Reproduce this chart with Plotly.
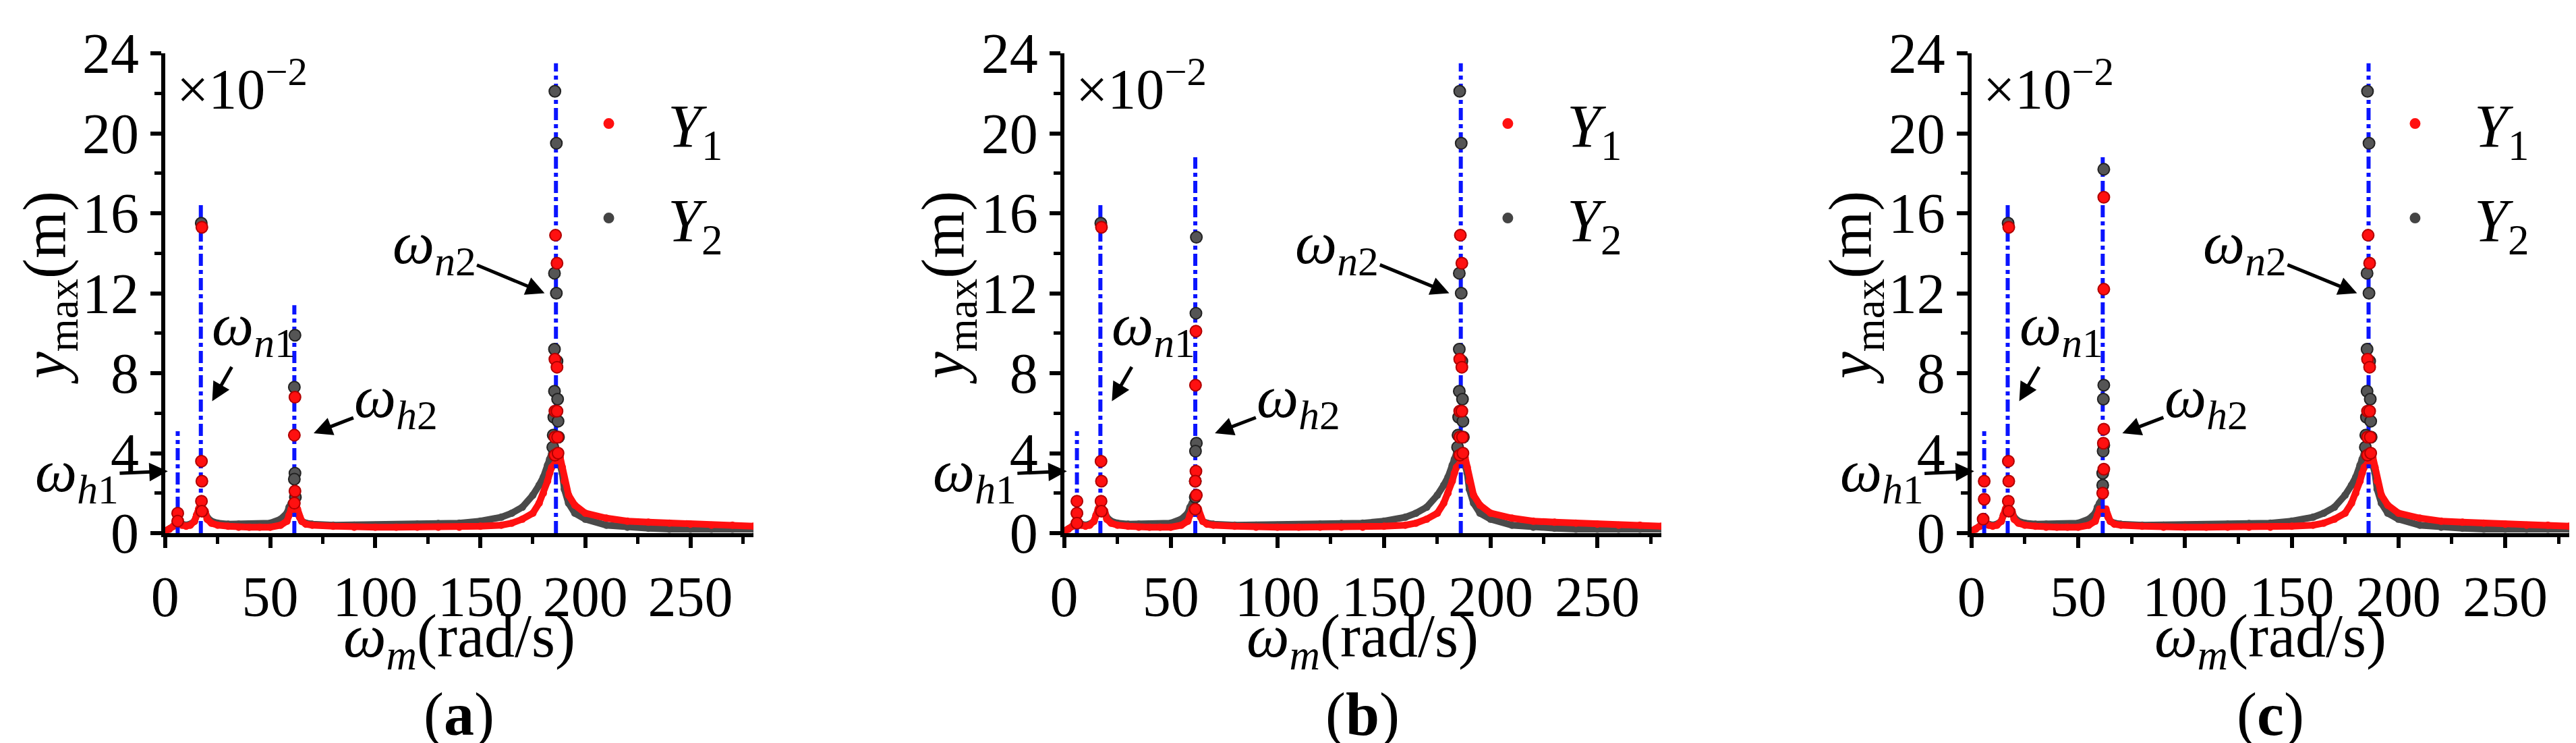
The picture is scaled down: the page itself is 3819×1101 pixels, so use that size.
import plotly.graph_objects as go
from plotly.subplots import make_subplots

# base response (values in 1e-2 m)
omega_base = [0, 2, 4, 5, 7, 8, 10, 12, 14, 15, 16, 19, 20, 22, 25, 30, 35, 40, 45, 50, 55, 58, 59, 60,
              63, 64, 65, 67, 70, 80, 90, 100, 110, 120, 130, 140, 150, 160, 165, 170, 175, 178, 180,
              182, 183, 184, 188, 189, 190, 192, 195, 200, 210, 220, 230, 240, 250, 260, 270, 280]
y1_base = [0.1, 0.2, 0.35, 0.5, 0.5, 0.4, 0.35, 0.4, 0.6, 0.9, 1.2, 1.1, 0.7, 0.5, 0.4, 0.35, 0.3, 0.3,
           0.3, 0.3, 0.4, 0.6, 0.9, 1.2, 1.2, 0.8, 0.6, 0.45, 0.4, 0.35, 0.3, 0.3, 0.3, 0.3, 0.3, 0.3,
           0.35, 0.4, 0.5, 0.7, 1.0, 1.5, 2.0, 2.6, 3.0, 3.3, 3.8, 3.3, 2.6, 1.9, 1.4, 1.0, 0.75, 0.6,
           0.55, 0.5, 0.45, 0.4, 0.4, 0.35]
y2_base = [0.1, 0.2, 0.35, 0.5, 0.5, 0.45, 0.4, 0.45, 0.6, 0.9, 1.2, 1.1, 0.8, 0.6, 0.5, 0.45, 0.45, 0.45,
           0.45, 0.5, 0.7, 1.0, 1.3, 1.5, 1.0, 0.8, 0.6, 0.5, 0.45, 0.4, 0.4, 0.4, 0.42, 0.45, 0.48, 0.5,
           0.6, 0.8, 1.0, 1.3, 1.9, 2.4, 2.8, 3.4, 3.7, 4.0, 3.4, 3.0, 2.2, 1.5, 1.0, 0.7, 0.4, 0.3,
           0.25, 0.2, 0.2, 0.2, 0.2, 0.2]

# common resonance points (omega_n1 and omega_n2)
n_y2_w = [17.2, 185.5, 186.2, 185.3, 186.2, 185.3, 186.5, 185.3, 186.8, 185.0, 187.0, 184.7, 187.2, 184.5]
n_y2_v = [15.5, 22.1, 19.5, 13.0, 12.0, 9.2, 8.6, 7.1, 6.7, 5.8, 5.6, 4.9, 4.8, 4.3]
n_y1_w = [17.5, 17.3, 17.5, 17.3, 17.5, 185.8, 186.5, 185.5, 186.5, 185.5, 186.5, 185.5, 186.8, 185.5, 187.0]
n_y1_v = [15.3, 3.6, 2.6, 1.6, 1.1, 14.9, 13.5, 8.7, 8.3, 6.1, 6.1, 4.8, 4.8, 3.9, 4.0]

# panel-specific points (omega_h1 and omega_h2)
a_y2_w = [61.8, 61.5, 61.8, 61.5, 62.0]
a_y2_v = [9.9, 7.3, 3.0, 2.7, 1.8]
a_y1_w = [6.0, 6.0, 61.8, 61.5, 61.8, 61.5]
a_y1_v = [1.0, 0.6, 6.8, 4.9, 2.1, 1.5]
b_y2_w = [62.0, 61.8, 62.0, 61.6, 61.5, 61.5]
b_y2_v = [14.8, 11.0, 4.5, 4.1, 2.6, 1.8]
b_y1_w = [6.0, 6.0, 6.0, 61.8, 61.6, 61.8, 61.5, 62.0, 61.5]
b_y1_v = [1.6, 1.0, 0.5, 10.1, 7.4, 3.1, 2.6, 1.9, 1.2]
c_y2_w = [62.0, 62.0, 61.8, 62.0, 61.7, 61.5, 61.5]
c_y2_v = [18.2, 7.4, 6.7, 4.4, 4.1, 3.0, 2.4]
c_y1_w = [6.0, 6.0, 5.5, 62.0, 62.0, 62.0, 61.8, 62.0, 61.5]
c_y1_v = [2.6, 1.7, 0.7, 16.8, 12.2, 5.2, 4.5, 3.2, 2.0]

# dash-dot marker lines: positions and heights per panel
vline_w = [6, 17, 61.5, 186]
vline_h = {"a": [5.1, 16.6, 11.4, 23.5], "b": [5.1, 16.6, 18.8, 23.5], "c": [5.1, 16.6, 18.8, 23.5]}

panels = {
    "a": (a_y1_w, a_y1_v, a_y2_w, a_y2_v),
    "b": (b_y1_w, b_y1_v, b_y2_w, b_y2_v),
    "c": (c_y1_w, c_y1_v, c_y2_w, c_y2_v),
}

FONT = "Liberation Serif"
RED = "#ff1010"
GRAY = "#4a4a4a"
TICK = 84
TITLE = 90

fig = make_subplots(rows=1, cols=3)
xdoms = [[0.0620, 0.2904], [0.411, 0.6428], [0.7632, 0.9953]]
ydom = [0.2897, 0.9355]

for i, key in enumerate(["a", "b", "c"]):
    col = i + 1
    sfx = "" if i == 0 else str(col)
    leg = "legend" + sfx
    w1, v1, w2, v2 = panels[key]
    # gray baseline
    fig.add_trace(go.Scatter(x=omega_base, y=y2_base, mode="lines+markers",
                             line=dict(color=GRAY, width=10),
                             marker=dict(size=11, color=GRAY), showlegend=False), row=1, col=col)
    fig.add_trace(go.Scatter(x=omega_base, y=y1_base, mode="lines+markers",
                             line=dict(color=RED, width=10),
                             marker=dict(size=11, color=RED), showlegend=False), row=1, col=col)
    for w, h in zip(vline_w, vline_h[key]):
        fig.add_trace(go.Scatter(x=[w, w], y=[0, h], mode="lines",
                                 line=dict(color="#0a14ff", width=6, dash="dashdot"),
                                 showlegend=False), row=1, col=col)
    fig.add_trace(go.Scatter(x=n_y2_w + w2, y=n_y2_v + v2, mode="markers", name="Y2",
                             marker=dict(size=17, color="#555555", line=dict(color="#222222", width=2)),
                             showlegend=False), row=1, col=col)
    fig.add_trace(go.Scatter(x=n_y1_w + w1, y=n_y1_v + v1, mode="markers", name="Y1",
                             marker=dict(size=17, color=RED, line=dict(color="#b00000", width=2)),
                             showlegend=False), row=1, col=col)
    # legend entries
    fig.add_trace(go.Scatter(x=[None], y=[None], mode="markers", name="   <i>Y</i><sub>1</sub>",
                             marker=dict(size=17, color=RED), legend=leg, legendgroup="y1"), row=1, col=col)
    fig.add_trace(go.Scatter(x=[None], y=[None], mode="markers", name="   <i>Y</i><sub>2</sub>",
                             marker=dict(size=17, color="#444444"), legend=leg, legendgroup="y2"), row=1, col=col)

    fig.update_xaxes(domain=xdoms[i], range=[0, 280], tickvals=[0, 50, 100, 150, 200, 250],
                     ticks="outside", ticklen=16, tickwidth=6, showline=True, linewidth=6,
                     linecolor="black", showgrid=False, zeroline=False, tickcolor="black",
                     automargin=False,
                     minor=dict(dtick=25, ticks="outside", ticklen=10, tickwidth=5, tickcolor="black"),
                     tickfont=dict(family=FONT, size=TICK, color="black"),
                     row=1, col=col)
    fig.update_yaxes(domain=ydom, range=[0, 24], tickvals=[0, 4, 8, 12, 16, 20, 24],
                     ticks="outside", ticklen=16, tickwidth=6, showline=True, linewidth=6,
                     linecolor="black", showgrid=False, zeroline=False, tickcolor="black",
                     automargin=False,
                     minor=dict(dtick=2, ticks="outside", ticklen=10, tickwidth=5, tickcolor="black"),
                     tickfont=dict(family=FONT, size=TICK, color="black"),
                     row=1, col=col)

    # axis titles placed as annotations for exact positioning
    fig.add_annotation(x=sum(xdoms[i]) / 2, y=0.145, xref="paper", yref="paper",
                       xanchor="center", yanchor="middle",
                       text="<i>ω<sub>m</sub></i>(rad/s)", showarrow=False,
                       font=dict(family=FONT, size=TITLE, color="black"))
    fig.add_annotation(x=xdoms[i][0] - 0.045, y=0.62, xref="paper", yref="paper",
                       xanchor="center", yanchor="middle",
                       text="<i>y</i><sub>max</sub>(m)", showarrow=False, textangle=-90,
                       font=dict(family=FONT, size=TITLE, color="black"))

    xr = "x" + sfx
    yr = "y" + sfx
    arrows = [("<i>ω<sub>h</sub></i><sub>1</sub>", -42, 2.9, 1.3, 3.1),
              ("<i>ω<sub>n</sub></i><sub>1</sub>", 42, 10.2, 22.4, 6.6),
              ("<i>ω<sub>h</sub></i><sub>2</sub>", 110, 6.6, 70.7, 5.0),
              ("<i>ω<sub>n</sub></i><sub>2</sub>", 128, 14.3, 180.6, 12.0)]
    for txt, tx, ty, hx, hy in arrows:
        fig.add_annotation(x=hx, y=hy, ax=tx, ay=ty, xref=xr, yref=yr, axref=xr, ayref=yr,
                           text=txt, showarrow=True, arrowhead=2, arrowsize=1.1, arrowwidth=5,
                           arrowcolor="black", font=dict(family=FONT, size=88, color="black"))
    fig.add_annotation(x=5, y=22.4, xref=xr, yref=yr, text="×10<sup>−2</sup>", showarrow=False,
                       xanchor="left", font=dict(family=FONT, size=TICK, color="black"))
    fig.add_annotation(x=sum(xdoms[i]) / 2, y=0.045, xref="paper", yref="paper",
                       xanchor="center", yanchor="middle",
                       text="(<b>" + key + "</b>)", showarrow=False,
                       font=dict(family=FONT, size=TITLE, color="black"))
    fig.update_layout({leg: dict(x=xdoms[i][0] + 0.167, y=0.9, xanchor="left", yanchor="top",
                                 bgcolor="rgba(0,0,0,0)", traceorder="grouped", tracegroupgap=20,
                                 font=dict(family=FONT, size=TITLE, color="black"))})

fig.update_layout(width=3819, height=1101, margin=dict(l=0, r=0, t=0, b=0),
                  paper_bgcolor="white", plot_bgcolor="white", showlegend=True)

fig.write_html("out.html")
